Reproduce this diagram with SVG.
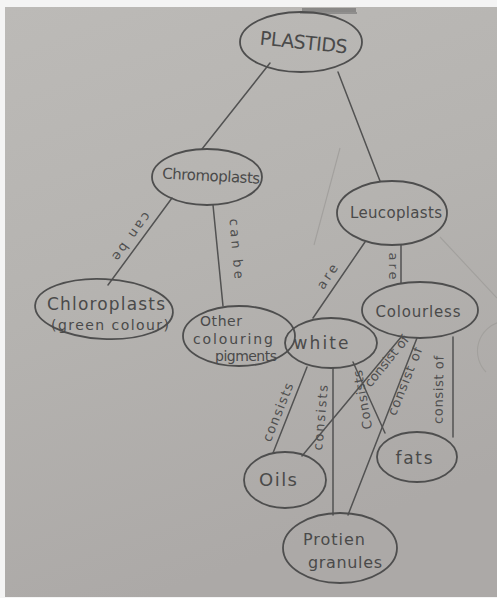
<svg xmlns="http://www.w3.org/2000/svg" width="497" height="598" viewBox="0 0 497 598">
<defs>
<linearGradient id="paper" x1="0" y1="0" x2="0.3" y2="1">
<stop offset="0" stop-color="#bcbab7"/>
<stop offset="0.5" stop-color="#b5b3b0"/>
<stop offset="1" stop-color="#aca9a7"/>
</linearGradient>
<style>
.node{fill:none;stroke:#4e4e4e;stroke-width:1.8}
.edge{fill:none;stroke:#525252;stroke-width:1.5;stroke-linecap:round}
.ghost{fill:none;stroke:#a2a09d;stroke-width:1.1}
.t{font-family:"DejaVu Sans","Liberation Sans",sans-serif;fill:#4a4a4a;text-anchor:middle}
.lbl{font-family:"DejaVu Sans","Liberation Sans",sans-serif;fill:#4f4f4f;text-anchor:middle;font-size:13px}
</style>
</defs>
<rect x="0" y="0" width="497" height="598" fill="#f4f4f4"/>
<rect x="5" y="7" width="492" height="590" fill="url(#paper)"/>
<g id="marks">
<path d="M302 8 L356 8 L356 12 L302 12 Z" fill="#5a5a5a" opacity="0.5"/>
<line x1="300" y1="13" x2="357" y2="13" stroke="#666" stroke-width="1"/>
<line class="ghost" x1="340" y1="148" x2="314" y2="245"/>
<line class="ghost" x1="440" y1="237" x2="497" y2="298"/>
<path class="ghost" d="M500 322 A30 30 0 0 0 486 372"/>
</g>
<g id="connectors">
<line class="edge" x1="270" y1="63" x2="202" y2="149"/>
<line class="edge" x1="338" y1="72" x2="380" y2="181"/>
<line class="edge" x1="172" y1="198" x2="108" y2="285"/>
<line class="edge" x1="213" y1="205" x2="223" y2="306"/>
<line class="edge" x1="365" y1="242" x2="313" y2="318"/>
<line class="edge" x1="401" y1="245" x2="401" y2="283"/>
<line class="edge" x1="307" y1="367" x2="273" y2="453"/>
<line class="edge" x1="333" y1="368" x2="333" y2="515"/>
<line class="edge" x1="353" y1="362" x2="385" y2="433"/>
<line class="edge" x1="402" y1="336" x2="302" y2="456"/>
<line class="edge" x1="417" y1="338" x2="348" y2="515"/>
<line class="edge" x1="453" y1="337" x2="453" y2="437"/>
<text class="lbl" transform="translate(128,234) rotate(126)" textLength="56">can be</text>
<text class="lbl" transform="translate(232,249) rotate(85)" textLength="60">can be</text>
<text class="lbl" transform="translate(331,279) rotate(-56)" textLength="27">are</text>
<text class="lbl" transform="translate(389,266) rotate(90)" textLength="27">are</text>
<text class="lbl" transform="translate(282,414) rotate(-68)" textLength="62">consists</text>
<text class="lbl" transform="translate(325,418) rotate(-85)" textLength="66">consists</text>
<text class="lbl" transform="translate(367,399) rotate(-100)" textLength="60">Consists</text>
<text class="lbl" transform="translate(390,364) rotate(-51)" textLength="62">consist of</text>
<text class="lbl" transform="translate(409,383) rotate(-68)" textLength="72">consist of</text>
<text class="lbl" transform="translate(443,390) rotate(-89)" textLength="68">consist of</text>
</g>
<g id="plastids">
<ellipse class="node" cx="301" cy="42" rx="61" ry="30"/>
<text class="t" transform="translate(303,49) rotate(6)" font-size="19" textLength="88">PLASTIDS</text>
</g>
<g id="chromoplasts">
<ellipse class="node" cx="207" cy="177" rx="55" ry="28"/>
<text class="t" transform="translate(211,181) rotate(3)" font-size="15" textLength="98">Chromoplasts</text>
</g>
<g id="leucoplasts">
<ellipse class="node" cx="392" cy="213" rx="55" ry="32"/>
<text class="t" x="396" y="218" font-size="15" textLength="92">Leucoplasts</text>
</g>
<g id="chloroplasts">
<ellipse class="node" cx="104" cy="309" rx="69" ry="30" transform="rotate(3 104 309)"/>
<text class="t" x="106" y="310" font-size="17" textLength="118">Chloroplasts</text>
<text class="t" x="110" y="330" font-size="14" textLength="118">(green colour)</text>
</g>
<g id="other-pigments">
<ellipse class="node" cx="239" cy="336" rx="56" ry="30"/>
<text class="t" x="221" y="326" font-size="14" textLength="42">Other</text>
<text class="t" x="233" y="344" font-size="14" textLength="80">colouring</text>
<text class="t" x="246" y="361" font-size="14" textLength="62">pigments</text>
</g>
<g id="colourless">
<ellipse class="node" cx="420" cy="310" rx="58" ry="28"/>
<text class="t" x="418" y="317" font-size="15" textLength="85">Colourless</text>
</g>
<g id="white">
<ellipse class="node" cx="331" cy="343" rx="46" ry="25"/>
<text class="t" x="321" y="349" font-size="17" textLength="55">white</text>
</g>
<g id="oils">
<ellipse class="node" cx="285" cy="480" rx="41" ry="28"/>
<text class="t" x="278" y="486" font-size="18" textLength="38">Oils</text>
</g>
<g id="fats">
<ellipse class="node" cx="417" cy="457" rx="40" ry="25"/>
<text class="t" x="414" y="464" font-size="17" textLength="37">fats</text>
</g>
<g id="protien-granules">
<ellipse class="node" cx="340" cy="548" rx="57" ry="35"/>
<text class="t" x="334" y="545" font-size="16" textLength="62">Protien</text>
<text class="t" x="345" y="568" font-size="16" textLength="74">granules</text>
</g>
</svg>
